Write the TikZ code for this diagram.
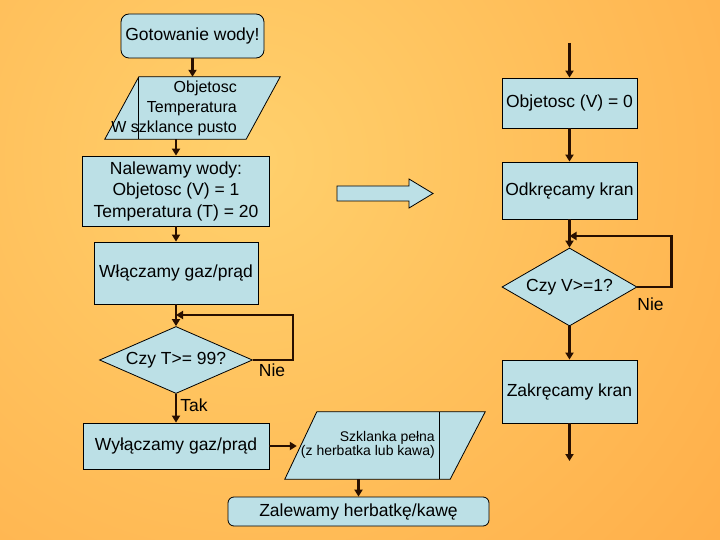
\documentclass[tikz,border=0pt]{standalone}
\usepackage{fontspec}
\setmainfont{Liberation Sans}
\usetikzlibrary{arrows.meta,shapes.geometric}
\definecolor{boxblue}{RGB}{188,224,230}
\definecolor{bglight}{RGB}{255,208,108}
\definecolor{bgorange}{RGB}{255,153,51}
\definecolor{linebrown}{RGB}{40,15,0}
\tikzset{
  krok/.style={draw=black, line width=0.8pt, fill=boxblue, inner sep=0pt, align=center},
  pytanie/.style={diamond, draw=black, line width=0.8pt, fill=boxblue, inner sep=0pt},
  obrys/.style={draw=black, line width=0.8pt, fill=boxblue},
  strzalka/.style={draw=linebrown, line width=2.2pt, -{Triangle[length=7pt,width=8pt]}},
}
\begin{document}
\begin{tikzpicture}[x=1pt, y=-1pt, font=\fontsize{17.5}{21.5}\selectfont]
\useasboundingbox (0,0) rectangle (720,540);
\begin{scope}
  \clip (0,0) rectangle (720,540);
  \shade[inner color=bglight, outer color=bgorange] (250,160) circle (1000);
\end{scope}

\node[krok, rounded corners=8pt, minimum width=143pt, minimum height=44pt] (start) at (192.5,36) {Gotowanie wody!};
\node[minimum width=175pt, minimum height=62pt, inner sep=0pt] (dane) at (192.5,108) {};
\filldraw[obrys] ([xshift=34pt]dane.north west) -- (dane.north east) -- ([xshift=-34pt]dane.south east) -- (dane.south west) -- cycle;
\draw[line width=0.8pt] ([xshift=34pt]dane.north west) -- ([xshift=34pt]dane.south west);
\node[anchor=east, align=right, inner sep=0pt, font=\fontsize{16}{20}\selectfont] (danetxt) at (237,108) {Objetosc\\Temperatura\\W szklance pusto};
\node[krok, minimum width=187pt, minimum height=70pt] (nalew) at (176,191) {Nalewamy wody:\\Objetosc (V) = 1\\Temperatura (T) = 20};
\node[krok, minimum width=164pt, minimum height=62pt] (wlacz) at (176,273) {Włączamy gaz/prąd};
\node[pytanie, aspect=2.28, minimum width=153pt, minimum height=67pt] (tpyt) at (176,360) {Czy T>= 99?};
\coordinate (tpetla) at (176,315);
\node (tnie) at (272,370) {Nie};
\node (ttak) at (194,405) {Tak};
\node[krok, minimum width=186pt, minimum height=46pt] (wylacz) at (176,446) {Wyłączamy gaz/prąd};

\node[minimum width=200pt, minimum height=67pt, inner sep=0pt] (pelna) at (385,445.5) {};
\filldraw[obrys] ([xshift=32pt]pelna.north west) -- (pelna.north east) -- ([xshift=-35pt]pelna.south east) -- (pelna.south west) -- cycle;
\draw[line width=0.8pt] ([xshift=-46pt]pelna.north east) -- ([xshift=-46pt]pelna.north east |- pelna.south);
\node[anchor=east, align=right, inner sep=0pt, font=\fontsize{14}{14}\selectfont] (pelnatxt) at (435,445) {Szklanka pełna\\(z herbatka lub kawa)};
\node[krok, rounded corners=6pt, minimum width=261pt, minimum height=29pt] (zalew) at (358.5,511.5) {Zalewamy herbatkę/kawę};

\filldraw[obrys] (337,186) -- (409,186) -- (409,179) -- (433,193.5) -- (409,208) -- (409,201) -- (337,201) -- cycle;

\coordinate (wejscie) at (569.5,43);
\node[krok, minimum width=135pt, minimum height=50pt] (vzero) at (569.5,103) {Objetosc (V) = 0};
\node[krok, minimum width=135pt, minimum height=57pt] (kran) at (569.5,190.5) {Odkręcamy kran};
\node[pytanie, aspect=1.73, minimum width=135pt, minimum height=78pt] (vpyt) at (569.5,287) {Czy V>=1?};
\coordinate (vpetla) at (569.5,236);
\node (vnie) at (650.5,304) {Nie};
\node[krok, minimum width=135pt, minimum height=63pt] (zakr) at (569.5,391.5) {Zakręcamy kran};
\coordinate (wyjscie) at (569.5,461);

\draw[strzalka] (start.south) -- (start.south |- dane.north);
\draw[strzalka] (nalew.north |- dane.south) -- (nalew.north);
\draw[strzalka] (nalew.south) -- (wlacz.north);
\draw[strzalka] (wlacz.south) -- (tpyt.north);
\draw[strzalka] (tpyt.east) -- ++(40,0) |- (tpetla);
\draw[strzalka] (tpyt.south) -- (wylacz.north);
\draw[strzalka] (wylacz.east) -- ([xshift=12pt]wylacz.east -| pelna.west);
\draw[strzalka] (zalew.north |- pelna.south) -- (zalew.north);

\draw[strzalka] (wejscie) -- (vzero.north);
\draw[strzalka] (vzero.south) -- (kran.north);
\draw[strzalka] (kran.south) -- (vpyt.north);
\draw[strzalka] (vpyt.east) -- ++(34,0) |- (vpetla);
\draw[strzalka] (vpyt.south) -- (zakr.north);
\draw[strzalka] (zakr.south) -- (wyjscie);
\end{tikzpicture}
\end{document}
